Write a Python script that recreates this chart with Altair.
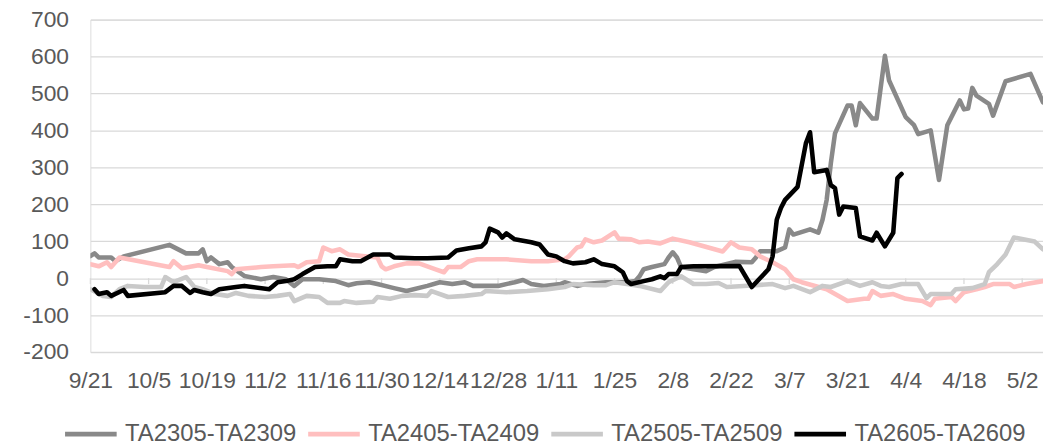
import altair as alt
import pandas as pd

SERIES = ["TA2305-TA2309", "TA2405-TA2409", "TA2505-TA2509", "TA2605-TA2609"]
COLORS = ["#898989", "#ffbfbf", "#c9c9c9", "#000000"]
WIDTHS = [4.6, 4.6, 4.6, 5.2]

TICK_LABELS = ["9/21", "10/5", "10/19", "11/2", "11/16", "11/30", "12/14", "12/28",
               "1/11", "1/25", "2/8", "2/22", "3/7", "3/21", "4/4", "4/18", "5/2"]
Y_TICKS = [-200, -100, 0, 100, 200, 300, 400, 500, 600, 700]

d2305 = ["9/21", "9/22", "9/23", "9/26", "9/27", "9/29", "10/10", "10/14", "10/17", "10/18",
         "10/19", "10/20", "10/22", "10/24", "10/25", "10/28", "11/1", "11/4", "11/7", "11/9",
         "11/11", "11/15", "11/19", "11/22", "11/24", "11/27", "11/29", "12/3", "12/6", "12/11",
         "12/14", "12/17", "12/20", "12/22", "12/25", "12/28", "1/1", "1/3", "1/5", "1/8",
         "1/12", "1/13", "1/16", "1/18", "1/23", "1/28", "1/30", "1/31", "2/1", "2/3",
         "2/6", "2/7", "2/8", "2/9", "2/10", "2/13", "2/16", "2/18", "2/23", "2/27",
         "2/28", "2/29", "3/4", "3/6", "3/7", "3/8", "3/12", "3/14", "3/15", "3/16",
         "3/17", "3/18", "3/21", "3/22", "3/23", "3/24", "3/27", "3/28", "3/30", "3/31",
         "4/4", "4/6", "4/7", "4/10", "4/12", "4/14", "4/17", "4/18", "4/19", "4/20",
         "4/21", "4/24", "4/25", "4/28", "5/4", "5/7"]
v2305 = [60, 67, 56, 56, 46, 59, 90, 67, 67, 78,
         46, 56, 38, 43, 30, 6, -3, 3, -3, -21,
         -3, -3, -8, -19, -14, -11, -16, -27, -35, -21,
         -11, -16, -11, -21, -21, -21, -11, -5, -16, -21,
         -16, -11, -21, -16, -11, -11, -8, 5, 24, 30,
         38, 56, 70, 56, 30, 24, 19, 30, 44, 43,
         56, 73, 73, 83, 132, 118, 132, 123, 158, 212,
         311, 392, 467, 467, 414, 474, 432, 432, 602, 535,
         436, 414, 390, 400, 266, 414, 481, 457, 459, 515,
         494, 472, 440, 533, 553, 476]

d2405 = ["9/21", "9/23", "9/25", "9/26", "9/28", "10/10", "10/11", "10/13", "10/17", "10/19",
         "10/24", "10/25", "10/26", "11/1", "11/4", "11/9", "11/10", "11/12", "11/15", "11/16",
         "11/18", "11/20", "11/22", "11/26", "11/29", "11/30", "12/1", "12/3", "12/6", "12/9",
         "12/11", "12/13", "12/15", "12/16", "12/19", "12/21", "12/23", "12/30", "1/5", "1/9",
         "1/13", "1/14", "1/16", "1/17", "1/18", "1/20", "1/22", "1/25", "1/26", "1/29",
         "1/31", "2/2", "2/5", "2/8", "2/12", "2/20", "2/22", "2/24", "2/27", "2/29",
         "3/3", "3/6", "3/8", "3/10", "3/16", "3/21", "3/25", "3/26", "3/27", "3/29",
         "4/1", "4/4", "4/8", "4/10", "4/11", "4/15", "4/16", "4/18", "4/21", "4/23",
         "4/25", "4/29", "4/30", "5/3", "5/7"]
v2405 = [38, 32, 43, 30, 56, 30, 46, 27, 35, 30,
         19, 11, 24, 30, 32, 35, 30, 43, 46, 83,
         73, 78, 64, 59, 56, 32, 24, 32, 40, 40,
         32, 24, 16, 30, 30, 46, 51, 51, 46, 46,
         51, 59, 83, 86, 105, 97, 102, 124, 107, 105,
         97, 99, 94, 107, 97, 72, 97, 83, 78, 59,
         43, 24, -3, -11, -30, -62, -56, -56, -35, -48,
         -43, -56, -62, -73, -56, -51, -62, -38, -30, -24,
         -16, -16, -24, -16, -8]

d2505 = ["9/21", "9/24", "9/26", "9/28", "9/30", "10/4", "10/8", "10/9", "10/11", "10/14",
         "10/16", "10/18", "10/21", "10/24", "10/26", "10/29", "11/2", "11/5", "11/8", "11/9",
         "11/12", "11/15", "11/17", "11/20", "11/21", "11/24", "11/28", "11/29", "12/2", "12/5",
         "12/8", "12/11", "12/12", "12/16", "12/20", "12/24", "12/25", "12/30", "1/4", "1/9",
         "1/13", "1/15", "1/20", "1/23", "1/25", "1/28", "1/31", "2/5", "2/7", "2/10",
         "2/13", "2/16", "2/19", "2/21", "2/25", "3/3", "3/6", "3/8", "3/12", "3/15",
         "3/17", "3/21", "3/24", "3/27", "3/29", "3/31", "4/3", "4/7", "4/9", "4/10",
         "4/15", "4/16", "4/20", "4/23", "4/24", "4/26", "4/28", "4/30", "5/5", "5/7"]
v2505 = [-30, -48, -51, -30, -21, -24, -24, 3, -11, 3,
         -24, -30, -43, -48, -40, -48, -51, -48, -43, -62,
         -48, -51, -67, -67, -62, -67, -64, -51, -56, -48,
         -46, -48, -35, -51, -48, -43, -35, -38, -35, -30,
         -24, -16, -19, -19, -11, -16, -21, -35, -11, 5,
         -16, -16, -13, -24, -21, -16, -27, -21, -38, -21,
         -24, -8, -21, -11, -21, -24, -16, -16, -54, -43,
         -43, -30, -27, -16, 16, 38, 64, 110, 99, 78]

d2605 = ["9/22", "9/23", "9/25", "9/26", "9/29", "9/30", "10/9", "10/11", "10/13", "10/15",
         "10/16", "10/18", "10/20", "10/22", "10/26", "10/28", "11/3", "11/5", "11/7", "11/9",
         "11/11", "11/14", "11/17", "11/19", "11/20", "11/23", "11/25", "11/28", "12/2", "12/3",
         "12/8", "12/11", "12/16", "12/18", "12/21", "12/24", "12/25", "12/26", "12/28", "12/29",
         "12/30", "1/1", "1/5", "1/7", "1/9", "1/11", "1/13", "1/15", "1/18", "1/20",
         "1/22", "1/25", "1/27", "1/28", "1/29", "2/1", "2/3", "2/5", "2/6", "2/7",
         "2/9", "2/10", "2/13", "2/24", "2/27", "3/2", "3/3", "3/4", "3/5", "3/6",
         "3/9", "3/11", "3/12", "3/13", "3/16", "3/17", "3/18", "3/19", "3/20", "3/23",
         "3/24", "3/27", "3/28", "3/30", "4/1", "4/2", "4/3"]
v2605 = [-30, -43, -38, -48, -32, -48, -38, -21, -21, -40,
         -32, -38, -43, -30, -24, -21, -30, -11, -8, -3,
         11, 30, 32, 32, 51, 46, 46, 64, 64, 56,
         54, 54, 56, 75, 81, 86, 97, 134, 124, 110,
         121, 105, 97, 91, 64, 59, 46, 40, 43, 51,
         38, 32, 16, -8, -16, -8, -3, 5, 0, 11,
         11, 30, 32, 33, -24, 24, 59, 158, 190, 212,
         247, 365, 395, 287, 293, 252, 244, 172, 194, 190,
         113, 102, 123, 86, 123, 271, 282]


def to_date(md):
    m, d = (int(p) for p in md.split("/"))
    year = 2023 if m >= 9 else 2024
    return f"{year}-{m:02d}-{d:02d}"


frames = []
for name, ds, vs in zip(SERIES, [d2305, d2405, d2505, d2605], [v2305, v2405, v2505, v2605]):
    frames.append(pd.DataFrame({"date": [to_date(x) for x in ds], "value": vs, "series": name}))
df = pd.concat(frames, ignore_index=True)
df["order"] = df["series"].map({s: i for i, s in enumerate(SERIES)})

tick_df = pd.DataFrame({"date": [to_date(t) for t in TICK_LABELS]})


def dt(md):
    m, d = (int(p) for p in md.split("/"))
    return alt.DateTime(year=2023 if m >= 9 else 2024, month=m, date=d, utc=True)


TEXT = "#595959"
GRID = "#d9d9d9"
FONT = "Liberation Sans"

x_scale = alt.Scale(type="utc", domain=[dt("9/21"), dt("5/7")], nice=False)
y_scale = alt.Scale(domain=[-200, 700], nice=False)

x_axis = alt.Axis(values=[dt(t) for t in TICK_LABELS],
                  labelExpr="utcFormat(datum.value, '%-m/%-d')",
                  grid=False, domain=False, ticks=False, labelPadding=18,
                  labelFontSize=23, labelColor=TEXT, labelFont=FONT, title=None,
                  labelOverlap=False, labelFlush=False)
y_axis = alt.Axis(values=Y_TICKS, tickCount=10, grid=True, gridColor=GRID,
                  gridWidth=1.3, domain=False, ticks=False, labelPadding=22,
                  labelExpr="'' + datum.value", labelOverlap=False,
                  labelFontSize=23, labelColor=TEXT, labelFont=FONT, title=None)

lines = alt.Chart(df).mark_line(strokeJoin="round", strokeCap="round", clip=True).encode(
    x=alt.X("date:T", scale=x_scale, axis=x_axis),
    y=alt.Y("value:Q", scale=y_scale, axis=y_axis),
    color=alt.Color("series:N", scale=alt.Scale(domain=SERIES, range=COLORS),
                    legend=alt.Legend(orient="none", direction="horizontal", legendX=-28, legendY=389,
                                      title=None, symbolType="stroke", symbolSize=2704,
                                      symbolStrokeWidth=5, labelFontSize=24, labelFont=FONT,
                                      labelColor=TEXT, labelOffset=6, columnPadding=2,
                                      padding=0, labelLimit=300)),
    strokeWidth=alt.StrokeWidth("series:N", scale=alt.Scale(domain=SERIES, range=WIDTHS), legend=None),
    order=alt.Order("order:Q"),
    detail="series:N",
)

ticks = alt.Chart(tick_df).mark_rule(color=GRID, strokeWidth=1.3).encode(
    x=alt.X("date:T", scale=x_scale, axis=x_axis),
    y=alt.YDatum(0, scale=y_scale, axis=y_axis),
    y2=alt.datum(-16),
)

chart = alt.layer(ticks, lines).properties(
    width=960, height=335,
    padding={"left": 83, "top": 10, "right": 0, "bottom": 90},
    autosize=alt.AutoSizeParams(type="none"),
).configure_view(stroke=None).configure(font=FONT).configure_axis(labelOverlap=False)

chart.save("out.html", embed_options={"renderer": "svg", "actions": False})
